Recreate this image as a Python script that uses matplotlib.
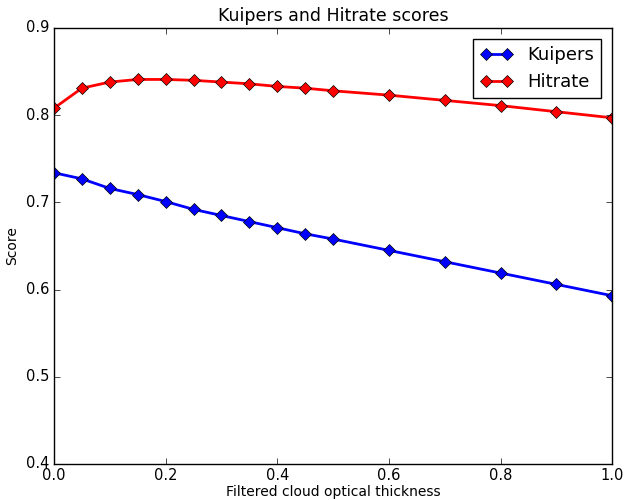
import matplotlib
matplotlib.use('Agg')
import matplotlib.pyplot as plt

thickness = [0.0, 0.05, 0.1, 0.15, 0.2, 0.25, 0.3, 0.35, 0.4, 0.45, 0.5,
             0.6, 0.7, 0.8, 0.9, 1.0]
kuipers = [0.734, 0.727, 0.716, 0.709, 0.701, 0.692, 0.685, 0.678, 0.671,
           0.664, 0.658, 0.645, 0.632, 0.619, 0.606, 0.593]
hitrate = [0.808, 0.831, 0.838, 0.841, 0.841, 0.840, 0.838, 0.836, 0.833,
           0.831, 0.828, 0.823, 0.817, 0.811, 0.804, 0.797]

plt.style.use('classic')
fig = plt.figure(figsize=(6.24, 5.0), dpi=100, facecolor='white')
ax = fig.add_subplot(111)
fig.subplots_adjust(left=0.0865, right=0.981, top=0.944, bottom=0.072)

ax.plot(thickness, kuipers, 'bD-', linewidth=2, markersize=6, label='Kuipers')
ax.plot(thickness, hitrate, 'rD-', linewidth=2, markersize=6, label='Hitrate')

ax.set_xlim(0, 1)
ax.set_ylim(0.4, 0.9)
ax.set_title('Kuipers and Hitrate scores', fontsize=12.5)
ax.set_xlabel('Filtered cloud optical thickness', fontsize=10, labelpad=1)
ax.set_ylabel('Score', fontsize=10)
ax.tick_params(labelsize=10.5, pad=3)
ax.legend(loc='upper right', fontsize=13, numpoints=2, handlelength=1.8,
          borderaxespad=0.6)

fig.savefig('out.png', dpi=100, facecolor='white')
